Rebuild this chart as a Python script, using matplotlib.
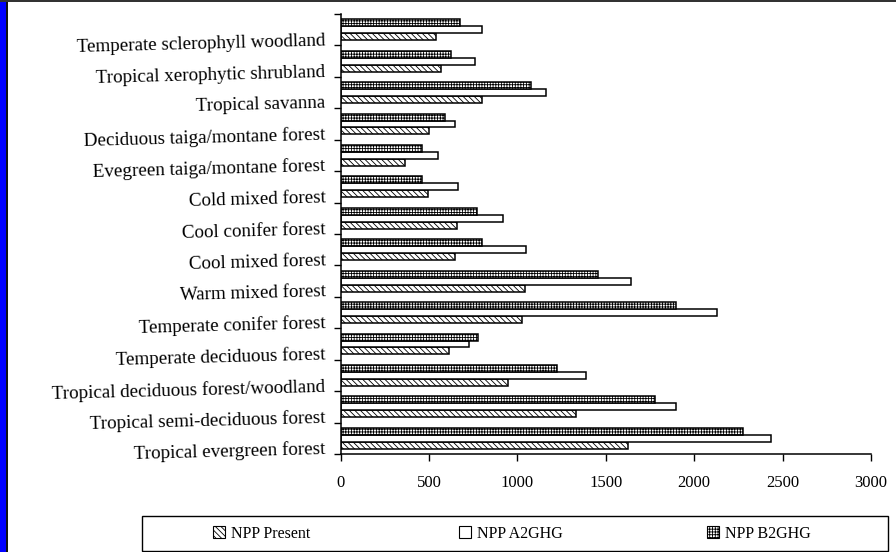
import matplotlib
matplotlib.use("Agg")
import matplotlib.pyplot as plt
from matplotlib.patches import Rectangle, Patch
import numpy as np

plt.rcParams['font.family'] = ['Liberation Serif', 'DejaVu Serif']
plt.rcParams['hatch.linewidth'] = 0.6

# Biome types, listed bottom to top
biomes = [
    "Tropical evergreen forest",
    "Tropical semi-deciduous forest",
    "Tropical deciduous forest/woodland",
    "Temperate deciduous forest",
    "Temperate conifer forest",
    "Warm mixed forest",
    "Cool mixed forest",
    "Cool conifer forest",
    "Cold mixed forest",
    "Evegreen taiga/montane forest",
    "Deciduous taiga/montane forest",
    "Tropical savanna",
    "Tropical xerophytic shrubland",
    "Temperate sclerophyll woodland",
]

npp_present = [1625, 1330, 945, 613, 1028, 1043, 648, 659, 497, 364, 500, 801, 567, 539]
npp_a2ghg = [2435, 1898, 1388, 727, 2128, 1643, 1051, 921, 666, 550, 645, 1163, 758, 799]
npp_b2ghg = [2277, 1776, 1222, 777, 1896, 1455, 802, 770, 463, 461, 591, 1076, 624, 677]

x_ticks = [0, 500, 1000, 1500, 2000, 2500, 3000]
series_names = ["NPP Present", "NPP A2GHG", "NPP B2GHG"]

W, H = 896, 552
fig = plt.figure(figsize=(W / 100, H / 100), dpi=100)
fig.patch.set_facecolor("white")

# Frame decoration around the figure
fig.patches.append(Rectangle((0, 0), 6 / W, 1, transform=fig.transFigure,
                             facecolor="#0000ff", edgecolor="none", zorder=0))
fig.patches.append(Rectangle((6 / W, 0), 1.5 / W, 1, transform=fig.transFigure,
                             facecolor="#111111", edgecolor="none", zorder=0))
fig.patches.append(Rectangle((0, 1 - 2 / H), 1, 2 / H, transform=fig.transFigure,
                             facecolor="#333333", edgecolor="none", zorder=0))

left, right, top, bottom = 340.5, 871, 14, 454
ax = fig.add_axes([left / W, 1 - bottom / H, (right - left) / W, (bottom - top) / H])

y = np.arange(len(biomes))
h = 0.22
styles = [
    dict(facecolor="white", hatch="\\\\\\\\\\\\"),
    dict(facecolor="white", hatch=None),
    dict(facecolor="white", hatch="++++++"),
]
values = [npp_present, npp_a2ghg, npp_b2ghg]
offsets = [-h, 0, h]
for vals, off, st in zip(values, offsets, styles):
    ax.barh(y + off, vals, height=h, edgecolor="black", linewidth=1.1,
            facecolor=st["facecolor"], hatch=st["hatch"], zorder=2)

ax.set_xlim(0, 3000)
ax.set_ylim(-0.5, len(biomes) - 0.5)
ax.set_xticks(x_ticks)
ax.set_xticklabels([str(v) for v in x_ticks], fontsize=12)
ax.tick_params(axis="x", direction="out", length=5, width=1, pad=10)

ax.set_yticks(np.arange(-0.5, len(biomes), 1.0))
ax.set_yticklabels([])
ax.tick_params(axis="y", direction="out", length=5, width=1)

for s in ["top", "right"]:
    ax.spines[s].set_visible(False)
for s in ["left", "bottom"]:
    ax.spines[s].set_linewidth(1.1)
    ax.spines[s].set_color("black")

# Category names sit just above the lower tick of each band
for i, name in enumerate(biomes):
    ax.text(-15 / (right - left), i - 0.35, name, transform=ax.get_yaxis_transform(),
            ha="right", va="center", fontsize=13.7, rotation=1.5,
            rotation_mode="anchor")

# Legend box
lx0, lx1, ly0, ly1 = 142, 888, 516, 551
fig.patches.append(Rectangle((lx0 / W, 1 - ly1 / H), (lx1 - lx0) / W, (ly1 - ly0) / H,
                             transform=fig.transFigure, facecolor="white",
                             edgecolor="black", linewidth=1.0, zorder=1))
entry_x = [213, 459, 707]
for name, st, ex in zip(series_names, styles, entry_x):
    handle = Patch(facecolor=st["facecolor"], hatch=st["hatch"], edgecolor="black",
                   linewidth=0.8)
    fig.legend([handle], [name], loc="center left",
               bbox_to_anchor=(ex / W, 1 - 533.5 / H), frameon=False,
               fontsize=11.5, handlelength=0.75, handleheight=0.75,
               handletextpad=0.35, borderpad=0, borderaxespad=0)

fig.savefig("out.png", dpi=100)
